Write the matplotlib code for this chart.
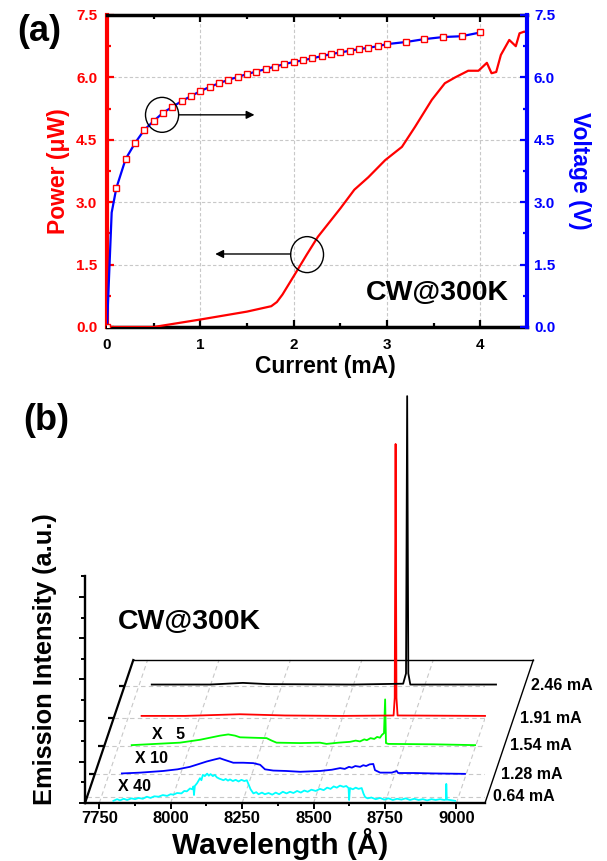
import numpy as np
import matplotlib.pyplot as plt
from matplotlib.patches import Ellipse
from matplotlib.ticker import MultipleLocator

plt.rcParams['font.family'] = ['Liberation Sans', 'DejaVu Sans']
plt.rcParams['font.weight'] = 'bold'

# ---------------- (a) L-I-V data ----------------
current_v = [0, 0.05, 0.1, 0.2, 0.3, 0.4, 0.5, 0.6, 0.7, 0.8, 0.9, 1.0,
             1.1, 1.2, 1.3, 1.4, 1.5, 1.6, 1.7, 1.8, 1.9, 2.0,
             2.1, 2.2, 2.3, 2.4, 2.5, 2.6, 2.7, 2.8, 2.9, 3.0,
             3.2, 3.4, 3.6, 3.8, 4.0]
voltage = [0, 2.75, 3.34, 4.04, 4.42, 4.74, 4.95, 5.15, 5.29, 5.43, 5.55, 5.67,
           5.77, 5.86, 5.94, 6.01, 6.08, 6.14, 6.20, 6.26, 6.32, 6.37,
           6.41, 6.46, 6.51, 6.56, 6.60, 6.64, 6.68, 6.71, 6.75, 6.80,
           6.85, 6.92, 6.97, 6.99, 7.08]

current_p = [0, 0.5, 1.0, 1.5, 1.76, 1.82, 1.88, 2.0, 2.14, 2.26, 2.5,
             2.65, 2.8, 2.98, 3.16, 3.30, 3.48, 3.62, 3.73, 3.87, 3.98,
             4.07, 4.12, 4.17, 4.22, 4.31, 4.38, 4.42, 4.47, 4.5]
power = [0, 0.0, 0.18, 0.37, 0.50, 0.60, 0.78, 1.22, 1.74, 2.17, 2.85,
         3.30, 3.60, 4.01, 4.33, 4.81, 5.46, 5.86, 6.00, 6.16, 6.16,
         6.35, 6.10, 6.13, 6.54, 6.90, 6.75, 7.06, 7.10, 7.08]

# ---------------- (b) spectra ----------------
currents = [0.64, 1.28, 1.54, 1.91, 2.46]
colors = ['#00ffff', '#0000ff', '#00ff00', '#ff0000', '#000000']
factors = ['X 40', 'X 10', 'X   5', '', '']

wl_064 = [7792, 7805, 7815, 7828, 7840, 7855, 7868, 7880, 7895, 7909, 7922,
          7935, 7950, 7965, 7980, 7992, 8002, 8015, 8030, 8040, 8049, 8060,
          8068, 8072, 8074, 8077, 8085, 8095, 8100, 8105, 8112, 8120, 8126,
          8132, 8140, 8147, 8154, 8162, 8170, 8177, 8185, 8193, 8200, 8210,
          8220, 8230, 8240, 8250, 8259, 8265, 8272, 8282, 8292, 8300, 8312,
          8322, 8335, 8348, 8360, 8372, 8385, 8398, 8410, 8422, 8435, 8448,
          8460, 8472, 8485, 8500, 8515, 8528, 8540, 8552, 8563, 8574, 8585,
          8597, 8607, 8615, 8617, 8620, 8630, 8640, 8650, 8661, 8667, 8673,
          8682, 8695, 8710, 8725, 8740, 8755, 8770, 8785, 8800, 8815, 8830,
          8845, 8860, 8875, 8890, 8905, 8920, 8935, 8950, 8956, 8957, 8959,
          8970, 8988]
int_064 = [-0.10, -0.06, -0.09, -0.05, -0.08, -0.04, -0.06, -0.03, -0.05, 0.0, -0.03,
           0.01, 0.0, 0.04, 0.02, 0.06, 0.05, 0.09, 0.08, 0.14, 0.13, 0.20,
           0.18, 0.25, 0.04, 0.26, 0.33, 0.45, 0.40, 0.53, 0.50, 0.56, 0.51,
           0.55, 0.50, 0.53, 0.47, 0.44, 0.42, 0.40, 0.43, 0.39, 0.42, 0.38,
           0.41, 0.37, 0.41, 0.38, 0.40, 0.30, 0.18, 0.08, 0.11, 0.06, 0.10,
           0.06, 0.09, 0.05, 0.10, 0.06, 0.12, 0.08, 0.12, 0.09, 0.14, 0.10,
           0.15, 0.12, 0.17, 0.14, 0.19, 0.16, 0.22, 0.19, 0.25, 0.22, 0.27,
           0.24, 0.26, 0.21, -0.08, 0.21, 0.18, 0.22, 0.19, 0.21, 0.08, -0.01,
           -0.04, -0.02, -0.06, -0.03, -0.07, -0.04, -0.08, -0.05, -0.07, -0.04, -0.08,
           -0.05, -0.08, -0.06, -0.09, -0.06, -0.08, -0.06, -0.08, -0.07, 0.31, -0.07,
           -0.08, -0.10]

wl_128 = [7795, 7860, 7940, 7990, 8033, 8065, 8092, 8120, 8138, 8150, 8185,
          8220, 8255, 8279, 8296, 8325, 8370, 8419, 8489, 8530, 8559, 8575,
          8590, 8600, 8612, 8629, 8640, 8650, 8662, 8675, 8681, 8699, 8740,
          8757, 8762, 8820, 8885, 8996]
int_128 = [0.02, 0.04, 0.08, 0.12, 0.18, 0.25, 0.31, 0.36, 0.39, 0.36, 0.28,
           0.28, 0.27, 0.23, 0.12, 0.09, 0.08, 0.06, 0.08, 0.11, 0.15, 0.13,
           0.18, 0.16, 0.20, 0.18, 0.22, 0.20, 0.24, 0.25, 0.10, 0.04, 0.04,
           0.08, 0.03, 0.03, 0.02, 0.01]

wl_154 = [7796, 7880, 7965, 8035, 8105, 8134, 8158, 8175, 8220, 8268, 8286,
          8303, 8385, 8455, 8478, 8520, 8560, 8580, 8595, 8610, 8619, 8632,
          8645, 8655, 8665, 8672, 8679, 8683, 8686, 8694, 8852, 8998]
int_154 = [0.02, 0.05, 0.08, 0.15, 0.25, 0.28, 0.25, 0.21, 0.20, 0.19, 0.13,
           0.08, 0.07, 0.08, 0.05, 0.08, 0.10, 0.13, 0.11, 0.16, 0.14, 0.19,
           0.17, 0.22, 0.20, 0.27, 0.31, 1.13, 0.07, 0.05, 0.04, 0.02]

wl_191 = [7798, 7950, 8142, 8300, 8500, 8680, 8684, 8687, 8690, 8694, 9000]
int_191 = [0.06, 0.06, 0.10, 0.07, 0.06, 0.07, 0.5, 6.66, 0.5, 0.07, 0.06]

wl_246 = [7795, 8000, 8114, 8200, 8500, 8675, 8685, 8689, 8693, 8700, 9000]
int_246 = [0.03, 0.03, 0.07, 0.04, 0.03, 0.05, 0.3, 7.03, 0.3, 0.03, 0.03]

spectra_wl = [wl_064, wl_128, wl_154, wl_191, wl_246]
spectra_int = [int_064, int_128, int_154, int_191, int_246]

W, H = 607, 861
fig = plt.figure(figsize=(W / 100, H / 100), dpi=100)

# ================= panel (a) =================
ax = fig.add_axes([107 / W, 1 - 327 / H, 420 / W, 312 / H])
ax2 = ax.twinx()
ax.set_zorder(2)
ax2.set_zorder(3)
ax2.patch.set_visible(False)

ax.plot(current_p, power, color='red', lw=1.6, zorder=3)
marked = [i for i in range(len(current_v)) if i != 1]
ax2.plot(current_v, voltage, color='blue', lw=1.6, marker='s', ms=5,
         mfc='white', mec='red', mew=1, markevery=marked, zorder=4)

ax.set_xlim(0, 4.5)
ax.set_ylim(0, 7.5)
ax2.set_ylim(0, 7.5)

ax.xaxis.set_major_locator(MultipleLocator(1))
ax.xaxis.set_minor_locator(MultipleLocator(0.5))
for a in (ax, ax2):
    a.yaxis.set_major_locator(MultipleLocator(1.5))
    a.yaxis.set_minor_locator(MultipleLocator(0.75))
    a.yaxis.set_major_formatter(plt.FormatStrFormatter('%.1f'))

ax.grid(True, which='major', ls='--', color='#c8c8c8', lw=0.8, dashes=(3, 2))
ax.set_axisbelow(True)

ax.tick_params(axis='x', which='both', direction='in', top=True, bottom=True,
               labelsize=11, pad=8, width=1.6, color='black')
ax.tick_params(axis='x', which='major', length=5)
ax.tick_params(axis='x', which='minor', length=3)
ax.tick_params(axis='y', which='both', direction='in', left=True, right=False,
               colors='red', labelsize=11, pad=7, width=1.6)
ax.tick_params(axis='y', which='major', length=5)
ax.tick_params(axis='y', which='minor', length=3)
ax2.tick_params(axis='y', which='both', direction='in', right=True, left=False,
                colors='blue', labelsize=11, pad=5, width=1.6)
ax2.tick_params(axis='y', which='major', length=5)
ax2.tick_params(axis='y', which='minor', length=3)

ax.spines['left'].set_color('red')
ax.spines['left'].set_linewidth(3)
ax.spines['right'].set_visible(False)
ax.spines['top'].set_linewidth(2.5)
ax.spines['bottom'].set_linewidth(2.5)
ax2.spines['right'].set_color('blue')
ax2.spines['right'].set_linewidth(3)
for s in ('left', 'top', 'bottom'):
    ax2.spines[s].set_visible(False)

ax.set_xlabel('Current (mA)', fontsize=16.5, fontweight='bold', va='center')
ax.xaxis.set_label_coords(0.52, -0.128)
ax.set_ylabel('Power (\u03bcW)', color='red', fontsize=16.5, fontweight='bold', va='center')
ax.yaxis.set_label_coords(-0.115, 0.5)
ax2.set_ylabel('Voltage (V)', color='blue', fontsize=16.5, fontweight='bold',
               rotation=-90, va='center')
ax2.yaxis.set_label_coords(1.126, 0.5)

# circles and arrows
ax2.add_patch(Ellipse((0.59, 5.10), 0.355, 0.84, fill=False, ec='black', lw=1, zorder=5))
ax2.annotate('', xy=(1.58, 5.10), xytext=(0.77, 5.10),
             arrowprops=dict(arrowstyle='-|>', color='black', lw=1,
                             mutation_scale=12, shrinkA=0, shrinkB=0))
ax.add_patch(Ellipse((2.144, 1.74), 0.352, 0.865, fill=False, ec='black', lw=1, zorder=5))
ax.annotate('', xy=(1.16, 1.755), xytext=(1.968, 1.755),
            arrowprops=dict(arrowstyle='-|>', color='black', lw=1,
                            mutation_scale=12, shrinkA=0, shrinkB=0))

fig.text(509 / W, 1 - 292.5 / H, 'CW@300K', ha='right', va='center',
         fontsize=20.5, fontweight='bold')
fig.text(39 / W, 1 - 31.5 / H, '(a)', ha='center', va='center', fontsize=26, fontweight='bold')
fig.text(46 / W, 1 - 421 / H, '(b)', ha='center', va='center', fontsize=26, fontweight='bold')

# ================= panel (b) =================
axb = fig.add_axes([85 / W, 1 - 803 / H, 400 / W, 412 / H])
axb.set_xlim(7700, 9100)
axb.set_ylim(0, 10)
axb.patch.set_visible(False)

DX = 169.0   # oblique depth offset in wavelength units
DY = 3.47    # oblique depth offset in intensity units
depth = [0.044, 0.201, 0.399, 0.592, 0.820]   # plane positions along depth
x0, x1 = 7700, 9100

for s in ('top', 'right'):
    axb.spines[s].set_visible(False)
axb.spines['left'].set_bounds(0, 5.5)
axb.spines['left'].set_linewidth(1.7)
axb.spines['bottom'].set_linewidth(1.7)

axb.xaxis.set_major_locator(MultipleLocator(250))
axb.xaxis.set_minor_locator(MultipleLocator(125))
axb.set_yticks(np.arange(0, 5.01, 1))
axb.set_yticks(np.arange(0.5, 5.51, 1), minor=True)
axb.tick_params(axis='x', which='both', direction='out', labelsize=12, pad=2, width=1.4)
axb.tick_params(axis='x', which='major', length=4)
axb.tick_params(axis='x', which='minor', length=2.5)
axb.tick_params(axis='y', which='both', direction='out', labelleft=False, width=1.4)
axb.tick_params(axis='y', which='major', length=4.5)
axb.tick_params(axis='y', which='minor', length=3)

# floor grid
grid_kw = dict(color='#c8c8c8', lw=0.8, ls=(0, (4, 3)), zorder=1)
for wl in np.arange(7750, 9001, 250):
    axb.plot([wl, wl + DX], [0, DY], **grid_kw)
for f in depth:
    axb.plot([x0 + f * DX, x1 + f * DX], [f * DY, f * DY], **grid_kw)

# box edges
axb.plot([x0, x0 + DX], [0, DY], color='black', lw=1.6, zorder=2, clip_on=False)
axb.plot([x1, x1 + DX], [0, DY], color='black', lw=1.0, zorder=2, clip_on=False)
axb.plot([x0 + DX, x1 + DX], [DY, DY], color='black', lw=1.0, zorder=2, clip_on=False)

# depth ticks on oblique axis
for f in depth:
    axb.plot([x0 + f * DX - 21, x0 + f * DX], [f * DY, f * DY], color='black',
             lw=1.6, zorder=2, solid_capstyle='butt')

label_pos = [(7808, 0.25), (7841, 0.39), (7866, 0.29)]
for k in range(5):
    f = depth[k]
    xs = np.array(spectra_wl[k]) + f * DX
    ys = np.array(spectra_int[k]) + f * DY
    axb.plot(xs, ys, color=colors[k], lw=1.3, zorder=4 + k, clip_on=False)
    axb.text(x1 + f * DX + 21, f * DY, f'{currents[k]:.2f} mA', ha='left', va='center',
             fontsize=11.5, fontweight='bold')
    if factors[k]:
        lx, ly = label_pos[k]
        axb.text(lx + f * DX, ly + f * DY, factors[k], ha='left', va='center',
                 fontsize=11.5, fontweight='bold')

axb.set_xlabel('Wavelength (\u00c5)', fontsize=21.5, fontweight='bold', va='center')
axb.xaxis.set_label_coords(0.4875, -0.1)
axb.set_ylabel('Emission Intensity (a.u.)', fontsize=18.3, fontweight='bold', va='center')
axb.yaxis.set_label_coords(-0.1, 0.35)

fig.text(118 / W, 1 - 621.7 / H, 'CW@300K', ha='left', va='center',
         fontsize=20.5, fontweight='bold')

fig.savefig('out.png', dpi=100)
